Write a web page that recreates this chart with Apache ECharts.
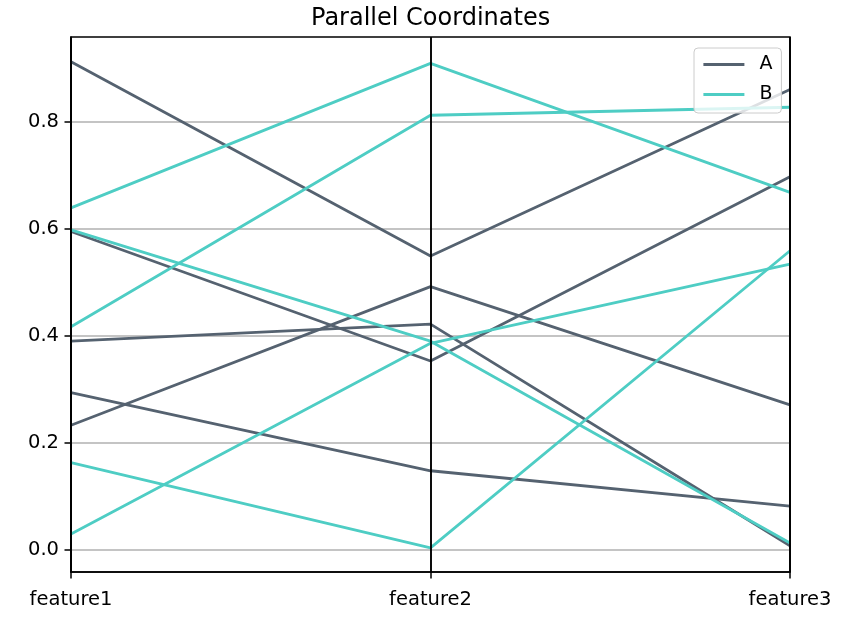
<!DOCTYPE html>
<html><head><meta charset="utf-8">
<script src="https://cdn.jsdelivr.net/npm/echarts@6/dist/echarts.min.js"></script>
<style>html,body{margin:0;padding:0;background:#fff}#c{width:865px;height:619px}</style>
</head><body><div id="c"></div>
<script>
const categories = ['feature1', 'feature2', 'feature3'];
const classNames = ['A', 'A', 'A', 'A', 'A', 'B', 'B', 'B', 'B', 'B'];
const feature1 = [0.912, 0.595, 0.390, 0.294, 0.233, 0.639, 0.417, 0.598, 0.163, 0.030];
const feature2 = [0.549, 0.353, 0.422, 0.148, 0.492, 0.909, 0.812, 0.390, 0.004, 0.386];
const feature3 = [0.860, 0.697, 0.008, 0.082, 0.271, 0.668, 0.827, 0.013, 0.559, 0.534];
const yTicks = [0, 0.2, 0.4, 0.6, 0.8];
const legendNames = ['A', 'B'];
const classColors = { A: '#556270', B: '#4ECDC4' };

const FONT = 'DejaVu Sans';
const series = classNames.map((c, i) => ({
  type: 'line',
  name: c,
  data: [feature1[i], feature2[i], feature3[i]],
  symbol: 'none',
  silent: true,
  lineStyle: { width: 2.8, color: classColors[c] },
  itemStyle: { color: classColors[c] },
  z: 2
}));

const chart = echarts.init(document.getElementById('c'), null, { renderer: 'canvas' });
chart.setOption({
  animation: false,
  backgroundColor: '#fff',
  title: {
    text: 'Parallel Coordinates',
    left: 311, top: 7,
    padding: 0,
    textStyle: { fontFamily: FONT, fontSize: 24, fontWeight: 'normal', color: '#000' }
  },
  legend: {
    data: legendNames,
    orient: 'vertical',
    left: 694, top: 48,
    padding: [7, 9, 9, 8],
    itemWidth: 41, itemHeight: 14, itemGap: 11,
    backgroundColor: 'rgba(255,255,255,0.8)',
    borderColor: '#cccccc', borderWidth: 1, borderRadius: 4,
    itemStyle: { opacity: 0, borderWidth: 0 },
    lineStyle: { width: 2.8 },
    textStyle: { fontFamily: FONT, fontSize: 19, color: '#000', padding: [0, 0, 0, 10], lineHeight: 19 },
    selectedMode: false
  },
  grid: {
    left: 71, right: 75, top: 37, bottom: 47,
    show: true, borderColor: '#000', borderWidth: 1.5, backgroundColor: 'transparent',
    containLabel: false
  },
  xAxis: {
    type: 'category',
    data: categories,
    boundaryGap: false,
    z: 10,
    axisLine: { show: true, onZero: false, lineStyle: { color: '#000', width: 1.5 } },
    axisTick: { show: true, length: 6.5, lineStyle: { color: '#000', width: 1.5 } },
    axisLabel: { margin: 18, fontFamily: FONT, fontSize: 19.5, color: '#000' },
    splitLine: { show: true, lineStyle: { color: '#000', width: 1.9 } }
  },
  yAxis: {
    type: 'value',
    min: -0.0411, max: 0.9582,
    axisLine: { show: true, lineStyle: { color: '#000', width: 1.5 } },
    axisTick: { show: true, length: 6.5, customValues: yTicks, lineStyle: { color: '#000', width: 1.5 } },
    axisLabel: { margin: 12, customValues: yTicks, fontFamily: FONT, fontSize: 19.5, color: '#000',
      formatter: v => v.toFixed(1) },
    splitLine: { show: true, lineStyle: { color: '#b0b0b0', width: 1.5 } }
  },
  series: series
});
</script></body></html>
